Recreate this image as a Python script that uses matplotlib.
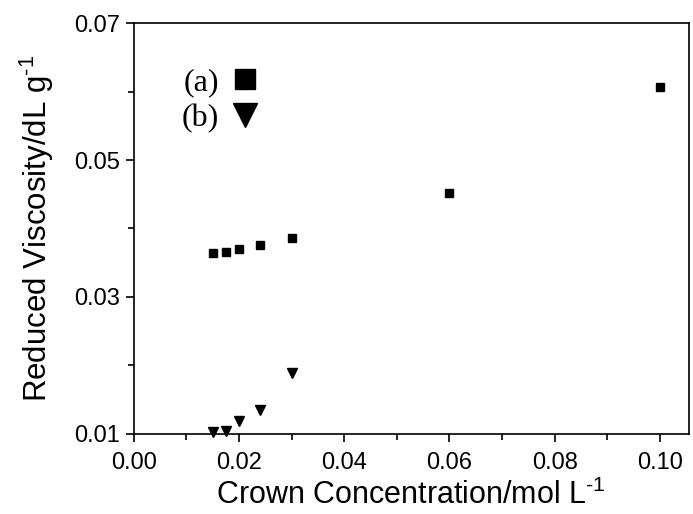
import numpy as np
import matplotlib
matplotlib.use("Agg")
import matplotlib.pyplot as plt
from matplotlib.ticker import MultipleLocator, FixedLocator, FormatStrFormatter

plt.rcParams['font.family'] = ['Liberation Sans', 'DejaVu Sans']
plt.rcParams['mathtext.fontset'] = 'custom'
plt.rcParams['mathtext.rm'] = 'Liberation Sans'
plt.rcParams['mathtext.it'] = 'Liberation Sans'

# crown concentration (mol/L)
conc = [0.015, 0.0175, 0.02, 0.024, 0.03, 0.06, 0.10]
visc_a = [0.0364, 0.0366, 0.0370, 0.0376, 0.0386, 0.0452, 0.0607]

conc_b = [0.015, 0.0175, 0.02, 0.024, 0.03]
visc_b = [0.0103, 0.0104, 0.0118, 0.0135, 0.0189]

labels = ['(a)', '(b)']
yticks = [0.01, 0.03, 0.05, 0.07]
yminor = [0.02, 0.04, 0.06]

fig = plt.figure(figsize=(6.93, 5.14), dpi=100)
ax = fig.add_axes([0.193, 0.156, 0.801, 0.799])

ha, = ax.plot(conc, visc_a, 's', color='black', ms=6, clip_on=False, label=labels[0])
hb, = ax.plot(conc_b, visc_b, 'v', color='black', ms=7.5, clip_on=False, label=labels[1])

ax.set_xlim(0.0, 0.1055)
ax.set_ylim(0.01, 0.07)
ax.xaxis.set_major_locator(MultipleLocator(0.02))
ax.xaxis.set_minor_locator(MultipleLocator(0.01))
ax.yaxis.set_major_locator(FixedLocator(yticks))
ax.yaxis.set_minor_locator(FixedLocator(yminor))
ax.xaxis.set_major_formatter(FormatStrFormatter('%.2f'))
ax.yaxis.set_major_formatter(FormatStrFormatter('%.2f'))
ax.tick_params(which='both', direction='out', width=1.2, labelsize=17)
ax.tick_params(axis='x', which='major', pad=7)
ax.tick_params(axis='y', which='major', pad=4)
ax.tick_params(which='major', length=6)
ax.tick_params(which='minor', length=4)
for s in ax.spines.values():
    s.set_linewidth(1.2)

sup = '$^{\u2010 1}$'
ax.set_xlabel('Crown Concentration/mol L' + sup, fontsize=22, labelpad=4)
ax.set_ylabel('Reduced Viscosity/dL g' + sup, fontsize=22.5, labelpad=13)

leg = ax.legend(handles=[ha, hb], loc='upper left', bbox_to_anchor=(0.035, 0.96),
                markerfirst=False, frameon=False, markerscale=2.3,
                prop={'family': 'Liberation Serif', 'size': 23},
                handlelength=0.9, handletextpad=0.35, labelspacing=0.2)

fig.savefig('out.png', dpi=100)
